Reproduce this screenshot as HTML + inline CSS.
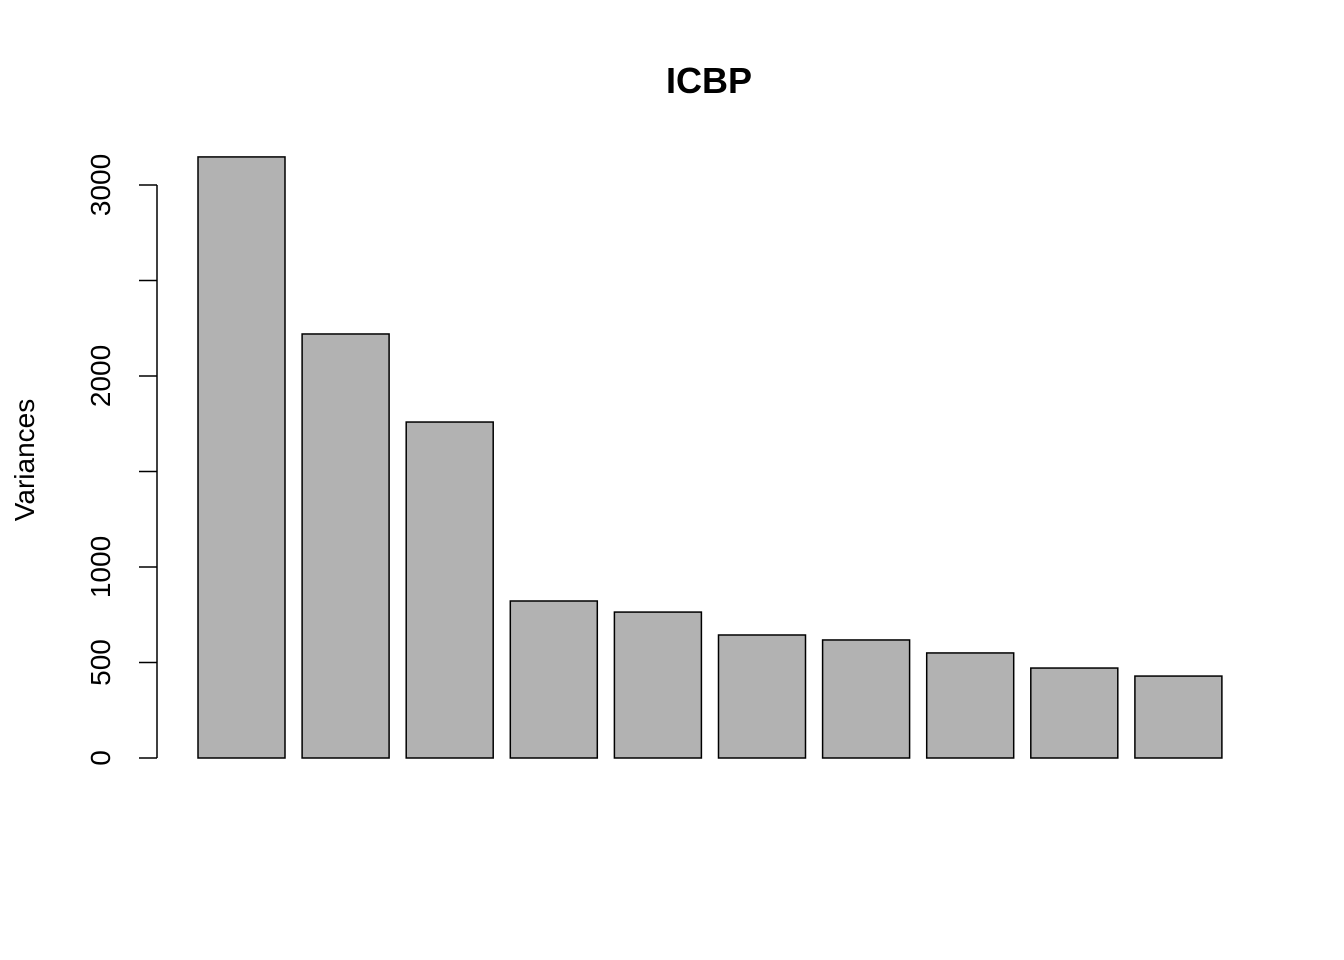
<!DOCTYPE html>
<html><head><meta charset="utf-8"><style>
html,body{margin:0;padding:0;background:#fff;}
svg{display:block;font-family:"Liberation Sans",Arial,sans-serif;}
</style></head><body>
<svg id="chart" width="1344" height="960">
<text x="709" y="93" text-anchor="middle" font-size="36" font-weight="bold">ICBP</text>
<text transform="translate(34,460) rotate(-90)" text-anchor="middle" font-size="28">Variances</text>
<g id="axis"></g>
<g id="bars"></g>
</svg>
<script>
const categories = ["PC1","PC2","PC3","PC4","PC5","PC6","PC7","PC8","PC9","PC10"];
const variances = [3147, 2220, 1759, 822, 764, 644, 618, 550, 471, 429];
const tickValues = [0, 500, 1000, 1500, 2000, 2500, 3000];
const tickLabels = ["0", "500", "1000", "", "2000", "", "3000"];

const NS = "http://www.w3.org/2000/svg";
const y0 = 758, pxPer = (758 - 185) / 3000;
function yScale(v){ return y0 - v * pxPer; }
const barW = 87, step = 104.1, x0 = 198;
function xScale(i){ return x0 + i * step; }

const bars = document.getElementById('bars');
categories.forEach((c, i) => {
  const r = document.createElementNS(NS, 'rect');
  r.setAttribute('x', xScale(i));
  r.setAttribute('y', yScale(variances[i]));
  r.setAttribute('width', barW);
  r.setAttribute('height', y0 - yScale(variances[i]));
  r.setAttribute('fill', '#b2b2b2');
  r.setAttribute('stroke', '#000');
  r.setAttribute('stroke-width', '1.5');
  
  
  bars.appendChild(r);
});

const axis = document.getElementById('axis');
const line = document.createElementNS(NS, 'line');
line.setAttribute('x1', 157); line.setAttribute('x2', 157);
line.setAttribute('y1', yScale(tickValues[0])); line.setAttribute('y2', yScale(tickValues[tickValues.length-1]));
line.setAttribute('stroke', '#000'); line.setAttribute('stroke-width', '1.5');


axis.appendChild(line);
tickValues.forEach((v, i) => {
  const y = yScale(v);
  const t = document.createElementNS(NS, 'line');
  t.setAttribute('x1', 139); t.setAttribute('x2', 157);
  t.setAttribute('y1', y); t.setAttribute('y2', y);
  t.setAttribute('stroke', '#000'); t.setAttribute('stroke-width', '1.5');
  
  
  axis.appendChild(t);
  if (tickLabels[i]) {
    const tx = document.createElementNS(NS, 'text');
    tx.setAttribute('transform', 'translate(110,' + y + ') rotate(-90)');
    tx.setAttribute('text-anchor', 'middle');
    tx.setAttribute('font-size', '28');
    tx.textContent = tickLabels[i];
    
    
    axis.appendChild(tx);
  }
});
</script>
</body></html>
